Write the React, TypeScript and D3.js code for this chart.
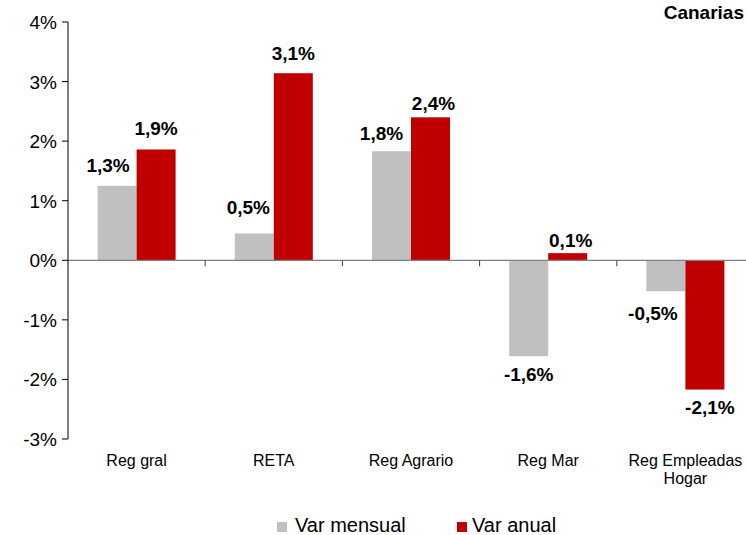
import React from "react";
import * as d3 from "d3";

const categories = ["Reg gral", "RETA", "Reg Agrario", "Reg Mar", "Reg Empleadas Hogar"];
const categoryLines = [["Reg gral"], ["RETA"], ["Reg Agrario"], ["Reg Mar"], ["Reg Empleadas", "Hogar"]];
const seriesNames = ["Var mensual", "Var anual"];
const varMensual = [1.25, 0.45, 1.83, -1.61, -0.52];
const varAnual = [1.86, 3.14, 2.4, 0.12, -2.17];
const labelsMensual = ["1,3%", "0,5%", "1,8%", "-1,6%", "-0,5%"];
const labelsAnual = ["1,9%", "3,1%", "2,4%", "0,1%", "-2,1%"];
const yTicks = [4, 3, 2, 1, 0, -1, -2, -3];
const colors = ["#c0c0c0", "#c00000"];
const title = "Canarias";

// label placement adjustments (style): horizontal shift and gap from bar end
const labelDxMensual = [-9, -6, -10, 0, -13];
const labelGapMensual = [14, 19, 11, 25, 29];
const labelDxAnual = [0, 0, 3, 3, 5];
const labelGapAnual = [14, 13, 7, 6, 24];

export default function App() {
  const W = 746, H = 535;
  const left = 68, right = 754, top = 22, bottom = 439;
  const y = d3.scaleLinear().domain([-3, 4]).range([bottom, top]);
  const x = d3.scaleBand<string>().domain(categories).range([left, right]).padding(0);
  const xs = d3.scaleBand<string>().domain(seriesNames).range([0, x.bandwidth()]).paddingInner(0).paddingOuter(0.759);
  const series = [varMensual, varAnual];
  const labels = [labelsMensual, labelsAnual];
  const dxs = [labelDxMensual, labelDxAnual];
  const gaps = [labelGapMensual, labelGapAnual];
  const font = "Liberation Sans, Arial, sans-serif";

  return (
    <svg width={W} height={H} style={{ position: "absolute", left: 0, top: 0, background: "#fff" }} fontFamily={font}>
      <rect width={W} height={H} fill="#fff" />
      {categories.map((c, i) =>
        series.map((s, j) => {
          const v = s[i];
          const bx = (x(c) as number) + (xs(seriesNames[j]) as number);
          const y0 = y(0), y1 = y(v);
          return (
            <rect key={`${i}-${j}`} x={bx} width={xs.bandwidth()} y={Math.min(y0, y1)} height={Math.abs(y1 - y0)} fill={colors[j]} />
          );
        })
      )}
      <line x1={left} x2={right} y1={y(0)} y2={y(0)} stroke="#808080" strokeWidth={1.2} />
      {categories.slice(1).map((c) => (
        <line key={c} x1={x(c) as number} x2={x(c) as number} y1={y(0)} y2={y(0) + 6} stroke="#404040" strokeWidth={1} />
      ))}
      <line x1={left} x2={left} y1={top} y2={bottom} stroke="#000" strokeWidth={1} />
      {yTicks.map((t) => (
        <g key={t}>
          <line x1={left - 6} x2={left} y1={y(t)} y2={y(t)} stroke="#000" strokeWidth={1} />
          <text x={57} y={y(t) + 7} textAnchor="end" fontSize={19} fill="#000">{`${t}%`}</text>
        </g>
      ))}
      {categories.map((c, i) =>
        series.map((s, j) => {
          const v = s[i];
          const cx = (x(c) as number) + (xs(seriesNames[j]) as number) + xs.bandwidth() / 2 + dxs[j][i];
          const ly = v >= 0 ? y(v) - gaps[j][i] : y(v) + gaps[j][i];
          return (
            <text key={`l${i}-${j}`} x={cx} y={ly} textAnchor="middle" fontSize={19} fontWeight="bold" fill="#000">{labels[j][i]}</text>
          );
        })
      )}
      {categories.map((c, i) => (
        <text key={`c${i}`} textAnchor="middle" fontSize={16} fill="#000">
          {categoryLines[i].map((ln, k) => (
            <tspan key={k} x={(x(c) as number) + x.bandwidth() / 2} y={466 + k * 18}>{ln}</tspan>
          ))}
        </text>
      ))}
      <rect x={277} y={522} width={10} height={10} fill={colors[0]} />
      <text x={295} y={532} fontSize={20} fill="#000">{seriesNames[0]}</text>
      <rect x={457} y={522} width={10} height={10} fill={colors[1]} />
      <text x={472} y={532} fontSize={20} fill="#000">{seriesNames[1]}</text>
      <text x={744} y={19} textAnchor="end" fontSize={19} fontWeight="bold" fill="#000">{title}</text>
    </svg>
  );
}
